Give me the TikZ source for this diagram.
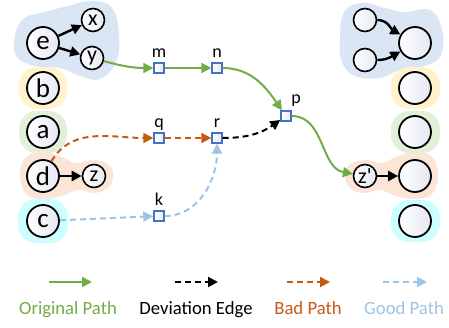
\documentclass[tikz,border=0pt]{standalone}
\usepackage{fontspec}
\setmainfont{Carlito}
\usetikzlibrary{arrows.meta}

\definecolor{origgreen}{HTML}{70AD47}
\definecolor{badorange}{HTML}{C55A11}
\definecolor{goodblue}{HTML}{9DC3E6}
\definecolor{sqblue}{HTML}{4472C4}
\definecolor{circgray}{RGB}{230,232,243}
\definecolor{blobblue}{RGB}{218,230,244}
\definecolor{blobyellow}{HTML}{FFF2CC}
\definecolor{blobgreen}{HTML}{E2F0D9}
\definecolor{bloborange}{HTML}{FBE5D6}
\definecolor{blobcyan}{RGB}{204,255,255}

\tikzset{
  bigc/.style={circle, draw, line width=1.8pt, minimum size=32pt, inner sep=0pt,
    left color=white, right color=circgray, font=\fontsize{27}{27}\selectfont},
  smallc/.style={circle, draw, line width=1.6pt, minimum size=23pt, inner sep=0pt,
    left color=white, right color=circgray, font=\fontsize{22}{22}\selectfont},
  sq/.style={rectangle, draw=sqblue, line width=1.4pt, minimum size=10pt, inner sep=0pt,
    left color=white, right color=circgray},
  lab/.style={font=\fontsize{18}{18}\selectfont, inner sep=0pt, text height=0.7em, text depth=0.25em},
  blob/.style={rounded corners=18pt},
  tipk/.style={-{Triangle[length=10pt,width=10pt]}},
  blk/.style={tipk, line width=2.4pt, black},
  orig/.style={tipk, line width=2pt, origgreen},
  dev/.style={tipk, line width=2pt, black, dash pattern=on 6pt off 4pt},
  bad/.style={tipk, line width=2pt, badorange, dash pattern=on 6pt off 4pt},
  good/.style={tipk, line width=2pt, goodblue, dash pattern=on 6pt off 4pt},
  legtext/.style={font=\fontsize{18.7}{18.7}\selectfont, anchor=base, inner sep=0pt},
}

\begin{document}
\begin{tikzpicture}[x=1pt, y=1pt]
\useasboundingbox (0,0) rectangle (449,327);

% group backgrounds, left side
\fill[blobblue] plot[smooth cycle, tension=0.7] coordinates
  {(14,285) (22,307) (45,315) (68,321) (92,326) (112,319) (119,292) (116,265)
   (100,248) (80,251) (60,259) (35,261) (18,269)};
\fill[blobyellow, blob] (19,218) rectangle (67,260);
\fill[blobgreen, blob] (19,174) rectangle (67,216);
\fill[bloborange] plot[smooth cycle, tension=0.7] coordinates
  {(20,152) (26,170) (43,175) (62,170) (76,164) (94,167) (109,162) (113,151)
   (108,139) (94,134) (78,137) (62,131) (43,128) (26,133)};
\fill[blobcyan, blob] (18,84) rectangle (68,128);

% group backgrounds, right side
\fill[blobblue] plot[smooth cycle, tension=0.7] coordinates
  {(340,287) (344,315) (362,324) (385,319) (405,315) (430,317) (442,297) (441,272)
   (425,261) (400,257) (380,249) (355,251) (342,265)};
\fill[blobyellow, blob] (391,218) rectangle (440,260);
\fill[blobgreen, blob] (391,174) rectangle (440,216);
\fill[bloborange] plot[smooth cycle, tension=0.7] coordinates
  {(438,152) (432,170) (415,175) (396,170) (382,164) (364,167) (349,162) (345,151)
   (350,139) (364,134) (380,137) (396,131) (415,128) (432,133)};
\fill[blobcyan, blob] (391,85) rectangle (440,127);

% left nodes
\node[bigc] (e) at (43,284) {e};
\node[smallc] (x) at (93,307) {x};
\node[smallc] (y) at (92,269) {y};
\node[bigc] (b) at (43,239) {b};
\node[bigc] (a) at (43,195) {a};
\node[bigc] (d) at (43,151) {d};
\node[smallc] (z) at (94,151) {z};
\node[bigc] (c) at (43,106) {c};

% path vertices
\node[sq, label={[lab, label distance=2pt]above:m}] (m) at (159,259) {};
\node[sq, label={[lab, label distance=2pt]above:n}] (n) at (217,259) {};
\node[sq, label={[lab, label distance=4pt, xshift=10pt]above:p}] (p) at (286,211) {};
\node[sq, label={[lab, label distance=2pt]above:q}] (q) at (159,189) {};
\node[sq, label={[lab, label distance=2pt]above:r}] (r) at (217,189) {};
\node[sq, label={[lab, label distance=2pt]above:k}] (k) at (159,111) {};

% right nodes
\node[smallc] (s1) at (365,307) {};
\node[smallc] (s2) at (365,267) {};
\node[bigc] (t1) at (415,284) {};
\node[bigc] (t2) at (415,239) {};
\node[bigc] (t3) at (415,195) {};
\node[smallc] (zp) at (365,151) {z\textquotesingle};
\node[bigc] (t4) at (415,151) {};
\node[bigc] (t5) at (415,106) {};

% local edges
\draw[blk] (e) -- (x);
\draw[blk] (e) -- (y);
\draw[blk] (d) -- (z);
\draw[blk] (zp) -- (t4);
\draw[blk] (s1) to[out=0, in=150] (t1);
\draw[blk] (s2) to[out=0, in=210] (t1);

% original path
\draw[orig] (y) to[out=-15, in=180] (m);
\draw[orig] (m) -- (n);
\draw[orig] (n) to[out=0, in=125] (p);
\draw[orig] (p) to[out=0, in=170] (zp);

% bad path and deviation edge
\draw[bad] (d) to[out=60, in=180] (q);
\draw[bad] (q) -- (r);
\draw[dev] (r) to[out=0, in=215] (p);

% good path
\draw[good] (c) -- (k);
\draw[good] (k) to[out=0, in=-90] (r);

% legend
\coordinate (l1a) at (49,45);  \coordinate (l1b) at (92,45);
\coordinate (l2a) at (175,45); \coordinate (l2b) at (218,45);
\coordinate (l3a) at (287,45); \coordinate (l3b) at (330,45);
\coordinate (l4a) at (383,45); \coordinate (l4b) at (427,45);
\draw[orig] (l1a) -- (l1b);
\draw[dev] (l2a) -- (l2b);
\draw[bad] (l3a) -- (l3b);
\draw[good] (l4a) -- (l4b);
\node[legtext, text=origgreen] (t-orig) at (68,13) {Original Path};
\node[legtext] (t-dev) at (196,13) {Deviation Edge};
\node[legtext, text=badorange] (t-bad) at (308,13) {Bad Path};
\node[legtext, text=goodblue] (t-good) at (404,13) {Good Path};
\end{tikzpicture}
\end{document}
